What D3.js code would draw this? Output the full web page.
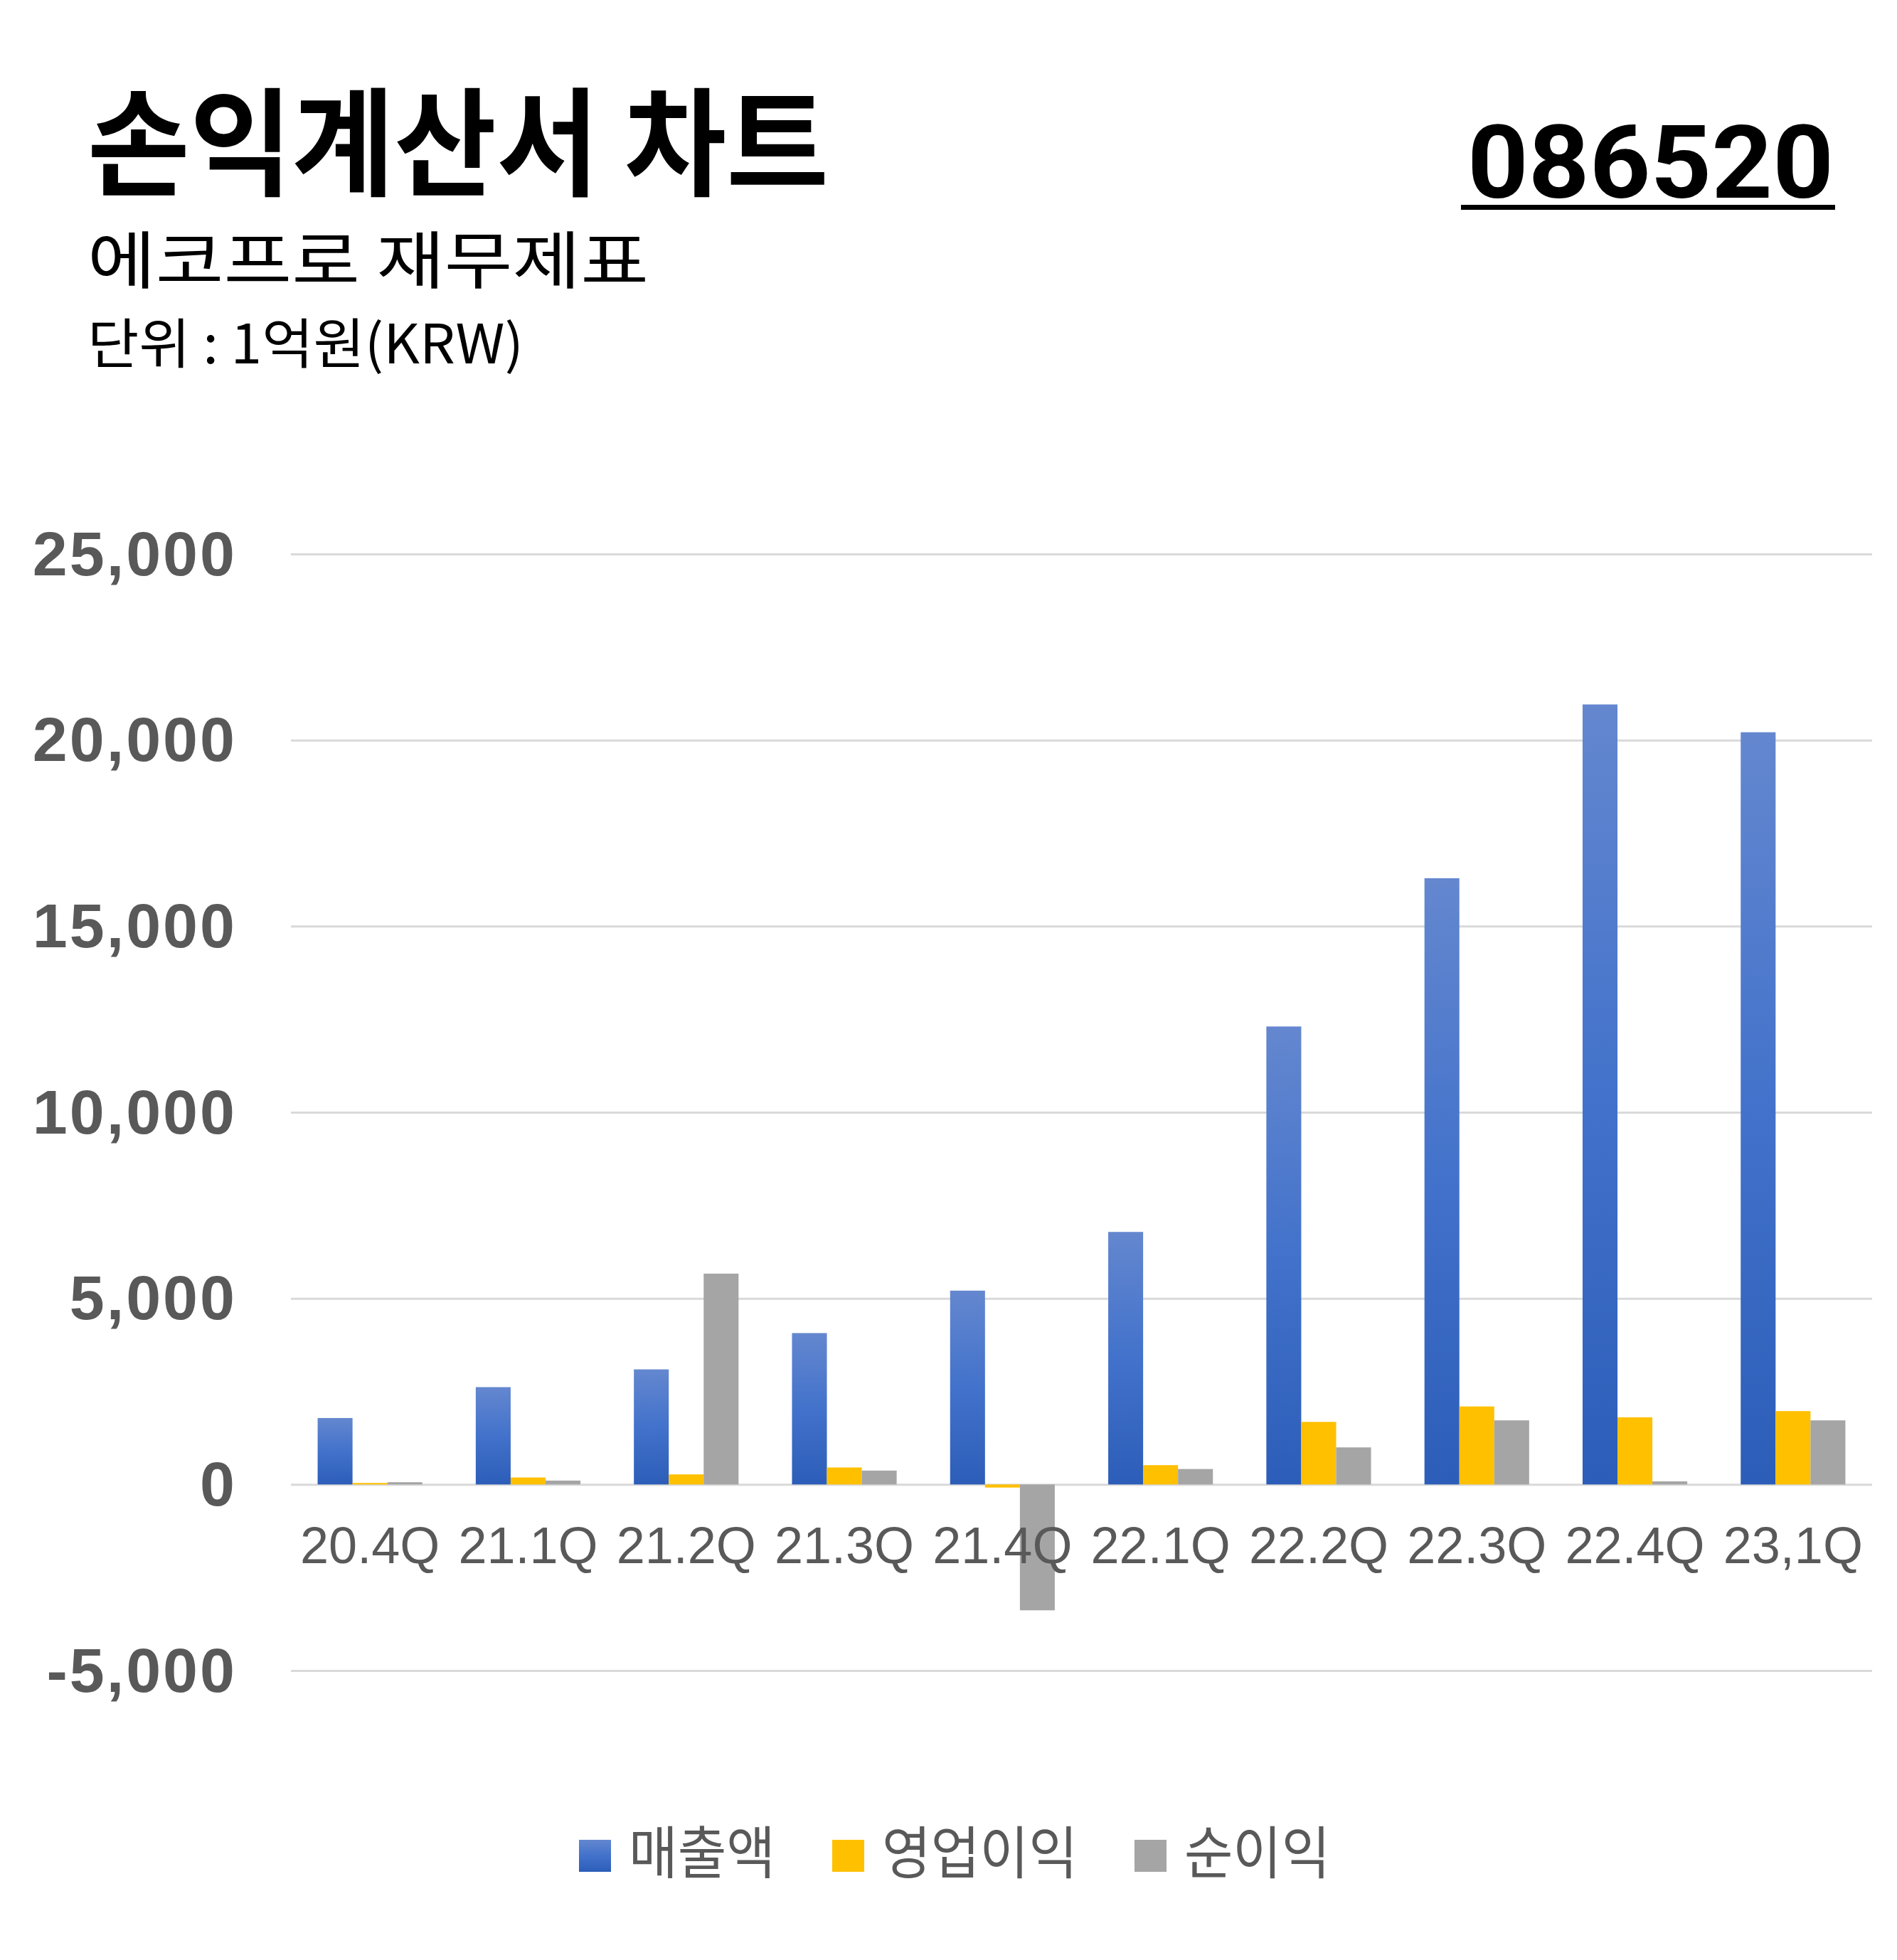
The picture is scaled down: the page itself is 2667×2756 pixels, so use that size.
<!DOCTYPE html>
<html>
<head>
<meta charset="UTF-8">
<title>손익계산서 차트</title>
<script src="https://cdn.jsdelivr.net/npm/d3@7"></script>
<style type="text/css">
body { margin: 0; background: #ffffff; }
svg { display: block; background: #ffffff; }
.kr { font-family: "Noto Sans CJK KR", "Noto Sans", sans-serif; }
.yaxis text { font: bold 88px "Liberation Sans", Arial, sans-serif; fill: #595959; letter-spacing: 3px; }
.xlab { font: 72px "Liberation Sans", Arial, sans-serif; fill: #595959; }
.legend text { font-size: 80px; fill: #595959; }
</style>
</head>
<body>
<div class="chart"></div>
<script>
// data (unit: 1억원)
var quarters  = ["20.4Q", "21.1Q", "21.2Q", "21.3Q", "21.4Q", "22.1Q", "22.2Q", "22.3Q", "22.4Q", "23,1Q"];
var seriesNames = ["매출액", "영업이익", "순이익"];
var revenue   = [1785, 2615, 3092, 4067, 5208, 6785, 12305, 16289, 20958, 20211];
var opProfit  = [40, 187, 270, 456, -83, 519, 1681, 2096, 1805, 1971];
var netProfit = [60, 104, 5665, 373, -3382, 415, 996, 1722, 83, 1722];
var yTicks    = [-5000, 0, 5000, 10000, 15000, 20000, 25000];

var W = 2667, H = 2756;
var plotLeft = 409, plotRight = 2632, plotTop = 779, plotBottom = 2349;

var svg = d3.select(".chart").append("svg")
    .attr("width", W)
    .attr("height", H);

var defs = svg.append("defs");
var grad = defs.append("linearGradient")
    .attr("id", "blueGrad")
    .attr("x1", 0).attr("y1", 0).attr("x2", 0).attr("y2", 1);
grad.append("stop").attr("offset", "0%").attr("stop-color", "#6487cf");
grad.append("stop").attr("offset", "50%").attr("stop-color", "#4272cb");
grad.append("stop").attr("offset", "100%").attr("stop-color", "#2c5db8");

var colors = ["url(#blueGrad)", "#ffc000", "#a5a5a5"];
var legendWidths = [206, 275, 205];

// titles
svg.append("text").attr("class", "kr")
    .attr("x", 123).attr("y", 262)
    .attr("font-size", 165).attr("font-weight", 700)
    .attr("textLength", 1042).attr("lengthAdjust", "spacingAndGlyphs")
    .text("손익계산서 차트");

svg.append("text").attr("class", "kr")
    .attr("x", 123).attr("y", 398)
    .attr("font-size", 88)
    .attr("textLength", 789).attr("lengthAdjust", "spacingAndGlyphs")
    .text("에코프로 재무제표");

svg.append("text").attr("class", "kr")
    .attr("x", 123).attr("y", 511)
    .attr("font-size", 76)
    .attr("textLength", 613).attr("lengthAdjust", "spacingAndGlyphs")
    .text("단위 : 1억원(KRW)");

svg.append("text")
    .attr("x", 2578).attr("y", 278)
    .attr("text-anchor", "end")
    .attr("font-family", "Roboto, 'Liberation Sans', sans-serif")
    .attr("font-weight", 700)
    .attr("font-size", 143)
    .attr("textLength", 515).attr("lengthAdjust", "spacingAndGlyphs")
    .text("086520");
svg.append("rect")
    .attr("x", 2054).attr("y", 288)
    .attr("width", 526).attr("height", 7)
    .attr("fill", "#000");

// scales
var y = d3.scaleLinear()
    .domain([yTicks[0], yTicks[yTicks.length - 1]])
    .range([plotBottom, plotTop]);

var x0 = d3.scaleBand()
    .domain(quarters)
    .range([plotLeft, plotRight])
    .paddingInner(0.338)
    .paddingOuter(0.169);

var x1 = d3.scaleBand()
    .domain(seriesNames)
    .range([0, x0.bandwidth()]);

// grid + y labels
var fmt = d3.format(",");
var yAxis = svg.append("g")
    .attr("class", "yaxis")
    .attr("transform", "translate(" + plotLeft + ",0)")
    .call(d3.axisLeft(y)
        .tickValues(yTicks)
        .tickSize(-(plotRight - plotLeft))
        .tickPadding(76)
        .tickFormat(function (d) { return fmt(d).replace("\u2212", "-"); }));
yAxis.select(".domain").remove();
yAxis.selectAll("line").attr("stroke", "#d9d9d9").attr("stroke-width", 3);
yAxis.selectAll("text").attr("dy", "0.33em");

// bars
var rows = quarters.map(function (q, i) {
    return { q: q, vals: [revenue[i], opProfit[i], netProfit[i]] };
});

var groups = svg.selectAll(".grp")
    .data(rows)
    .enter()
    .append("g")
    .attr("class", "grp")
    .attr("transform", function (d) { return "translate(" + x0(d.q) + ",0)"; });

groups.selectAll("rect")
    .data(function (d) {
        return d.vals.map(function (v, k) { return { k: k, v: v }; });
    })
    .enter()
    .append("rect")
    .attr("x", function (d) { return x1(seriesNames[d.k]); })
    .attr("width", x1.bandwidth())
    .attr("y", function (d) { return y(Math.max(0, d.v)); })
    .attr("height", function (d) { return Math.abs(y(d.v) - y(0)); })
    .attr("fill", function (d) { return colors[d.k]; });

// x labels
svg.selectAll(".xlab")
    .data(quarters)
    .enter()
    .append("text")
    .attr("class", "xlab")
    .attr("x", function (d) { return x0(d) + x0.bandwidth() / 2; })
    .attr("y", 2198)
    .attr("text-anchor", "middle")
    .text(function (d) { return d; });

// legend
var legend = svg.append("g").attr("class", "legend kr");
var lx = 0;
seriesNames.forEach(function (name, i) {
    var item = legend.append("g").attr("transform", "translate(" + lx + ",0)");
    item.append("rect")
        .attr("x", 0).attr("y", 2587)
        .attr("width", 45).attr("height", 45)
        .attr("fill", colors[i]);
    item.append("text")
        .attr("x", 70).attr("y", 2634)
        .attr("textLength", legendWidths[i]).attr("lengthAdjust", "spacingAndGlyphs")
        .text(name);
    lx += 70 + legendWidths[i] + 80;
});
lx -= 80;
legend.attr("transform", "translate(" + (1342 - lx / 2) + ",0)");
</script>
</body>
</html>
